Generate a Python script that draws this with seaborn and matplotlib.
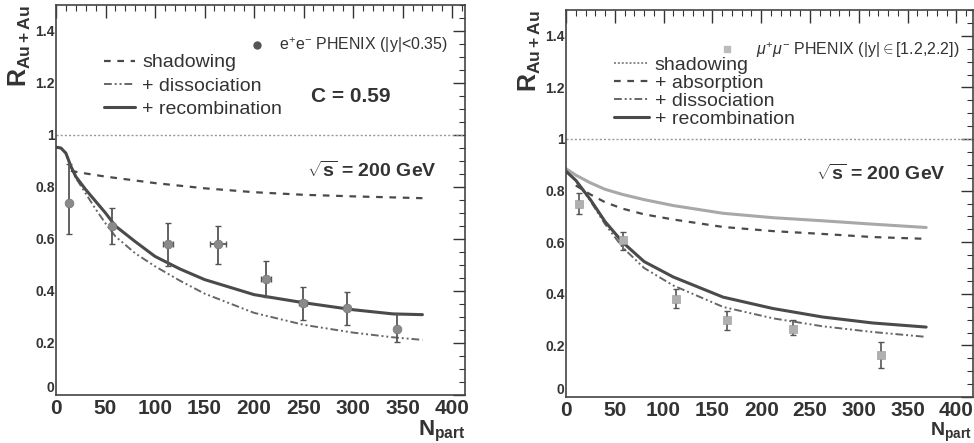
import numpy as np
import pandas as pd
import matplotlib
matplotlib.use("Agg")
import matplotlib.pyplot as plt
from matplotlib.lines import Line2D
from matplotlib.ticker import MultipleLocator, FuncFormatter
import seaborn as sns

# ---------------- data: left panel (e+e-, |y|<0.35) ----------------
L_data_x = [13, 57, 113, 164, 212, 249, 294, 344]
L_data_y = [0.74, 0.65, 0.58, 0.58, 0.447, 0.355, 0.336, 0.255]
L_data_up = [0.15, 0.07, 0.08, 0.07, 0.07, 0.06, 0.06, 0.055]
L_data_dn = [0.12, 0.07, 0.085, 0.075, 0.07, 0.065, 0.065, 0.05]
L_data_xerr = [0, 0, 5, 8, 5, 4, 0, 0]

L_shad_x = [15, 25, 50, 100, 150, 200, 250, 300, 370]
L_shad_y = [0.862, 0.855, 0.84, 0.815, 0.795, 0.78, 0.77, 0.764, 0.757]

L_diss_x = [0, 5, 10, 15, 20, 30, 40, 50, 60, 80, 100, 125, 150, 200, 250, 300, 340, 370]
L_diss_y = [0.953, 0.95, 0.93, 0.875, 0.835, 0.775, 0.715, 0.66, 0.61, 0.545, 0.495, 0.44, 0.39, 0.316, 0.27, 0.24, 0.222, 0.212]

L_reco_x = [0, 5, 10, 15, 20, 30, 40, 50, 60, 80, 100, 125, 150, 200, 250, 300, 340, 370]
L_reco_y = [0.953, 0.95, 0.93, 0.88, 0.84, 0.79, 0.745, 0.70, 0.65, 0.59, 0.533, 0.485, 0.444, 0.386, 0.355, 0.328, 0.312, 0.309]

# ---------------- data: right panel (mu+mu-, |y| in [1.2,2.2]) ----------------
R_data_x = [13, 58, 113, 165, 233, 323]
R_data_y = [0.75, 0.61, 0.38, 0.30, 0.265, 0.162]
R_data_up = [0.04, 0.03, 0.04, 0.035, 0.035, 0.05]
R_data_dn = [0.04, 0.04, 0.035, 0.04, 0.025, 0.05]

R_shad_x = [0, 10, 25, 40, 58, 80, 110, 161, 212, 263, 314, 369]
R_shad_y = [0.885, 0.86, 0.83, 0.805, 0.785, 0.765, 0.742, 0.712, 0.695, 0.683, 0.67, 0.657]

R_abs_x = [10, 25, 40, 58, 80, 110, 161, 212, 263, 314, 369]
R_abs_y = [0.82, 0.785, 0.755, 0.73, 0.708, 0.688, 0.659, 0.643, 0.632, 0.62, 0.613]

R_diss_x = [0, 10, 25, 40, 58, 80, 110, 161, 212, 263, 314, 369]
R_diss_y = [0.875, 0.84, 0.76, 0.67, 0.58, 0.5, 0.432, 0.349, 0.305, 0.274, 0.252, 0.233]

R_reco_x = [0, 10, 25, 40, 58, 80, 110, 161, 212, 263, 314, 369]
R_reco_y = [0.875, 0.84, 0.765, 0.68, 0.60, 0.525, 0.465, 0.387, 0.343, 0.31, 0.287, 0.271]

x_ticks = [0, 50, 100, 150, 200, 250, 300, 350, 400]
y_ticks = [0, 0.2, 0.4, 0.6, 0.8, 1.0, 1.2, 1.4]

sns.set_theme(style="white")
plt.rcParams['font.family'] = ['Liberation Sans', 'DejaVu Sans']
plt.rcParams['mathtext.fontset'] = 'custom'
plt.rcParams['mathtext.rm'] = 'Liberation Sans'
plt.rcParams['mathtext.bf'] = 'Liberation Sans:bold'
plt.rcParams['mathtext.it'] = 'Liberation Sans:italic'

fig = plt.figure(figsize=(9.74, 4.43), dpi=100)
axL = fig.add_axes([56/974, 48/443, 409/974, 390/443])
axR = fig.add_axes([566/974, 46/443, 407/974, 387/443])

dark = "#4a4a4a"
light = "#a8a8a8"
ptc = "#8a8a8a"


def style_axes(ax, xmax):
    ax.set_xlim(0, xmax)
    ax.set_ylim(0, 1.5)
    ax.xaxis.set_major_locator(MultipleLocator(50))
    ax.xaxis.set_minor_locator(MultipleLocator(10))
    ax.yaxis.set_major_locator(MultipleLocator(0.2))
    ax.yaxis.set_minor_locator(MultipleLocator(0.05))
    ax.set_xticks(x_ticks)
    ax.set_yticks(y_ticks)
    ax.yaxis.set_major_formatter(FuncFormatter(lambda v, p: f"{v:g}"))
    ax.tick_params(which="both", direction="in", top=True, right=True, colors="#333333")
    ax.tick_params(which="major", length=9, width=1.0)
    ax.tick_params(which="minor", length=4.5, width=0.8)
    ax.tick_params(axis="x", labelsize=15, pad=3)
    ax.tick_params(axis="y", labelsize=10, pad=1)
    for lab in ax.get_xticklabels() + ax.get_yticklabels():
        lab.set_fontweight("bold")
        lab.set_color("#333333")
    ax.get_yticklabels()[0].set_verticalalignment("bottom")
    for s in ax.spines.values():
        s.set_color("#444444")
        s.set_linewidth(1.2)
    ax.axhline(1.0, color="#999999", lw=1.0, ls=(0, (1.5, 1.5)))
    ax.set_xlabel("")
    ax.set_ylabel("")
    ax.grid(False)


# ---------- left panel ----------
sns.lineplot(x=L_shad_x, y=L_shad_y, ax=axL, color=dark, lw=1.6, linestyle=(0, (3, 3)))
sns.lineplot(x=L_diss_x, y=L_diss_y, ax=axL, color="#666666", lw=1.4, linestyle=(0, (4, 1.5, 1, 1.5, 1, 1.5)))
sns.lineplot(x=L_reco_x, y=L_reco_y, ax=axL, color=dark, lw=2.2)
axL.errorbar(L_data_x, L_data_y, yerr=[L_data_dn, L_data_up], xerr=L_data_xerr, fmt="none",
             ecolor="#555555", elinewidth=1.3, capsize=2.5)
sns.scatterplot(x=L_data_x, y=L_data_y, ax=axL, color=ptc, s=40, edgecolor="#777777", zorder=5)
style_axes(axL, 413)

hL = [Line2D([], [], color=dark, lw=1.6, ls=(0, (3, 3))),
      Line2D([], [], color="#666666", lw=1.4, ls=(0, (4, 1.5, 1, 1.5, 1, 1.5))),
      Line2D([], [], color=dark, lw=2.2)]
legL = axL.legend(hL, ["shadowing", "+ dissociation", "+ recombination"], loc="upper left",
                  bbox_to_anchor=(0.118, 0.875), frameon=False, handlelength=1.6, handletextpad=0.35,
                  labelspacing=0.3, borderpad=0, borderaxespad=0, prop={"size": 14})
for t in legL.get_texts():
    t.set_color("#333333")

axL.plot([203], [1.345], marker="o", color="#555555", ms=5, ls="none")
axL.text(225, 1.345, r"e$^{+}$e$^{-}$ PHENIX (|y|<0.35)", fontsize=11.5, va="center", color="#333333")
axL.text(257, 1.147, "C = 0.59", fontsize=15, fontweight="bold", va="center", color="#333333")
axL.text(253, 0.862, r"$\sqrt{\mathbf{s}}$ = 200 GeV", fontsize=14, fontweight="bold", va="center", color="#333333")

fig.text(20/974, 1 - 5/443, r"$\mathbf{R}_{\mathbf{Au+Au}}$", rotation=90, fontsize=18, ha="center", va="top", color="#333333")
fig.text(466/974, 1 - 419/443, r"$\mathbf{N}_{\mathbf{part}}$", fontsize=16, ha="right", va="top", color="#333333")

# ---------- right panel ----------
sns.lineplot(x=R_shad_x, y=R_shad_y, ax=axR, color=light, lw=2.2)
sns.lineplot(x=R_abs_x, y=R_abs_y, ax=axR, color=dark, lw=1.6, linestyle=(0, (3, 3)))
sns.lineplot(x=R_diss_x, y=R_diss_y, ax=axR, color="#666666", lw=1.4, linestyle=(0, (4, 1.5, 1, 1.5, 1, 1.5)))
sns.lineplot(x=R_reco_x, y=R_reco_y, ax=axR, color=dark, lw=2.2)
axR.errorbar(R_data_x, R_data_y, yerr=[R_data_dn, R_data_up], fmt="none",
             ecolor="#555555", elinewidth=1.2, capsize=2.5)
sns.scatterplot(x=R_data_x, y=R_data_y, ax=axR, color="#b0b0b0", marker="s", s=30, edgecolor="#999999", zorder=5)
style_axes(axR, 417)

hR = [Line2D([], [], color="#888888", lw=1.4, ls=(0, (1, 1))),
      Line2D([], [], color=dark, lw=1.6, ls=(0, (3, 3))),
      Line2D([], [], color="#666666", lw=1.4, ls=(0, (4, 1.5, 1, 1.5, 1, 1.5))),
      Line2D([], [], color=dark, lw=2.2)]
legR = axR.legend(hR, ["shadowing", "+ absorption", "+ dissociation", "+ recombination"], loc="upper left",
                  bbox_to_anchor=(0.118, 0.88), frameon=False, handlelength=1.8, handletextpad=0.3,
                  labelspacing=0.02, borderpad=0, borderaxespad=0, prop={"size": 14})
for t in legR.get_texts():
    t.set_color("#333333")

axR.plot([165], [1.347], marker="s", color="#bbbbbb", ms=5, ls="none")
axR.text(195, 1.345, r"$\mu^{+}\mu^{-}$ PHENIX (|y|$\in$[1.2,2.2])", fontsize=11.5, va="center", color="#333333")
axR.text(256, 0.865, r"$\sqrt{\mathbf{s}}$ = 200 GeV", fontsize=14, fontweight="bold", va="center", color="#333333")

fig.text(530/974, 1 - 10/443, r"$\mathbf{R}_{\mathbf{Au+Au}}$", rotation=90, fontsize=18, ha="center", va="top", color="#333333")
fig.text(972/974, 1 - 421/443, r"$\mathbf{N}_{\mathbf{part}}$", fontsize=14, ha="right", va="top", color="#333333")

fig.savefig("out.png", dpi=100)
